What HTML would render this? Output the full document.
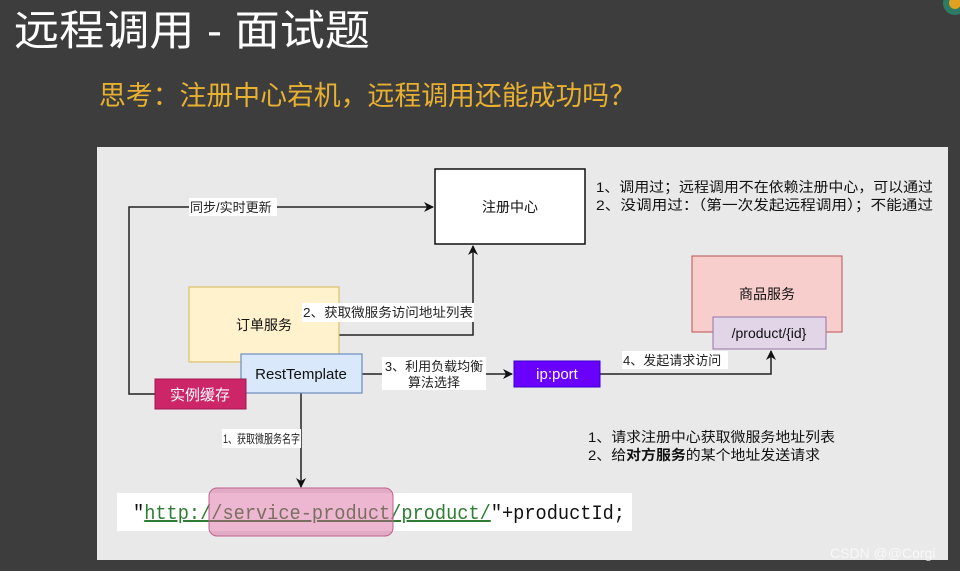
<!DOCTYPE html>
<html><head><meta charset="utf-8"><style>
html,body{margin:0;padding:0;background:#3d3d3d;width:960px;height:571px;overflow:hidden}
svg{display:block}
text{font-family:"Liberation Sans","Noto Sans CJK SC",sans-serif}
</style></head><body>
<svg width="960" height="571" viewBox="0 0 960 571">
<defs><marker id="a" markerWidth="10" markerHeight="10" refX="9" refY="5" orient="auto" markerUnits="userSpaceOnUse"><path d="M0,0 L10,5 L0,10 L3,5 z" fill="#111"/></marker></defs>
<rect width="960" height="571" fill="#3d3d3d"/>
<circle cx="955" cy="3" r="12" fill="#2f7a63"/><circle cx="955" cy="3" r="6" fill="#e0a020"/>
<text x="14" y="45" font-size="42" fill="#fff" textLength="356" lengthAdjust="spacingAndGlyphs">远程调用 - 面试题</text>
<text x="99" y="105" font-size="27" fill="#e8b030" textLength="537" lengthAdjust="spacingAndGlyphs">思考：注册中心宕机，远程调用还能成功吗？</text>
<rect x="97" y="147" width="851" height="413" fill="#e9e9e9"/>
<g stroke="#222" stroke-width="1.5" fill="none">
<path d="M155 394 H129 V207 H433" marker-end="url(#a)"/>
<path d="M301 354 V335 H473 V246" marker-end="url(#a)"/>
<path d="M362 374 H512" marker-end="url(#a)"/>
<path d="M600 374 H771 V351" marker-end="url(#a)"/>
<path d="M301 393 V487" marker-end="url(#a)"/>
</g>
<rect x="435" y="169" width="150" height="75" fill="#fff" stroke="#111" stroke-width="1.5"/>
<text x="510" y="212" font-size="14" text-anchor="middle" fill="#111">注册中心</text>
<rect x="189" y="198" width="88" height="18" fill="#fff"/>
<text x="190" y="212" font-size="13" fill="#222">同步/实时更新</text>
<rect x="189" y="287" width="150" height="75" fill="#fff2cc" stroke="#d6b656"/>
<text x="264" y="330" font-size="14" text-anchor="middle" fill="#111">订单服务</text>
<rect x="302" y="303" width="172" height="19" fill="#fff"/>
<text x="303" y="317" font-size="13" fill="#222" textLength="170" lengthAdjust="spacingAndGlyphs">2、获取微服务访问地址列表</text>
<rect x="241" y="354" width="121" height="39" fill="#dae8fc" stroke="#6c8ebf" stroke-width="1.2"/>
<text x="301" y="379" font-size="15" text-anchor="middle" fill="#111">RestTemplate</text>
<rect x="155" y="379" width="91" height="30" fill="#cc2668" stroke="#a01850"/>
<text x="200" y="400" font-size="15" text-anchor="middle" fill="#fff">实例缓存</text>
<rect x="382" y="357" width="104" height="33" fill="#fff"/>
<text x="434" y="371" font-size="13" text-anchor="middle" fill="#222">3、利用负载均衡</text>
<text x="434" y="387" font-size="13" text-anchor="middle" fill="#222">算法选择</text>
<rect x="514" y="361" width="86" height="26" fill="#6a00ff" stroke="#3700cc"/>
<text x="557" y="379" font-size="15" text-anchor="middle" fill="#fff">ip:port</text>
<rect x="622" y="351" width="106" height="18" fill="#fff"/>
<text x="623" y="365" font-size="13" fill="#222">4、发起请求访问</text>
<rect x="692" y="256" width="150" height="76" fill="#f8cecc" stroke="#b85450"/>
<text x="767" y="299" font-size="14" text-anchor="middle" fill="#111">商品服务</text>
<rect x="713" y="317" width="113" height="32" fill="#e1d5e7" stroke="#9673a6"/>
<text x="769" y="338" font-size="14" text-anchor="middle" fill="#111">/product/{id}</text>
<text x="596" y="192" font-size="14" fill="#111" textLength="337" lengthAdjust="spacingAndGlyphs">1、调用过；远程调用不在依赖注册中心，可以通过</text>
<text x="596" y="210" font-size="14" fill="#111" textLength="337" lengthAdjust="spacingAndGlyphs">2、没调用过：（第一次发起远程调用）；不能通过</text>
<rect x="222" y="429" width="79" height="19" fill="#fff"/>
<text x="223" y="443" font-size="12" fill="#222" textLength="77" lengthAdjust="spacingAndGlyphs">1、获取微服务名字</text>
<text x="588" y="442" font-size="14" fill="#111" textLength="247" lengthAdjust="spacingAndGlyphs">1、请求注册中心获取微服务地址列表</text>
<text x="588" y="460" font-size="14" fill="#111" textLength="232" lengthAdjust="spacingAndGlyphs">2、给<tspan font-weight="bold">对方服务</tspan>的某个地址发送请求</text>
<rect x="117" y="493" width="515" height="38" fill="#fff"/>
<text x="133" y="519" font-size="20" fill="#111" style="font-family:'Liberation Mono',monospace" textLength="492" lengthAdjust="spacingAndGlyphs">"<tspan fill="#2e7d32" text-decoration="underline">http://service-product/product/</tspan>"+productId;</text>
<rect x="209" y="488" width="184" height="48" rx="8" fill="#d6609a" fill-opacity="0.45" stroke="#c06090"/>
<text x="830" y="558" font-size="14" fill="#fff" fill-opacity="0.7">CSDN @@Corgi</text>
</svg>
</body></html>
